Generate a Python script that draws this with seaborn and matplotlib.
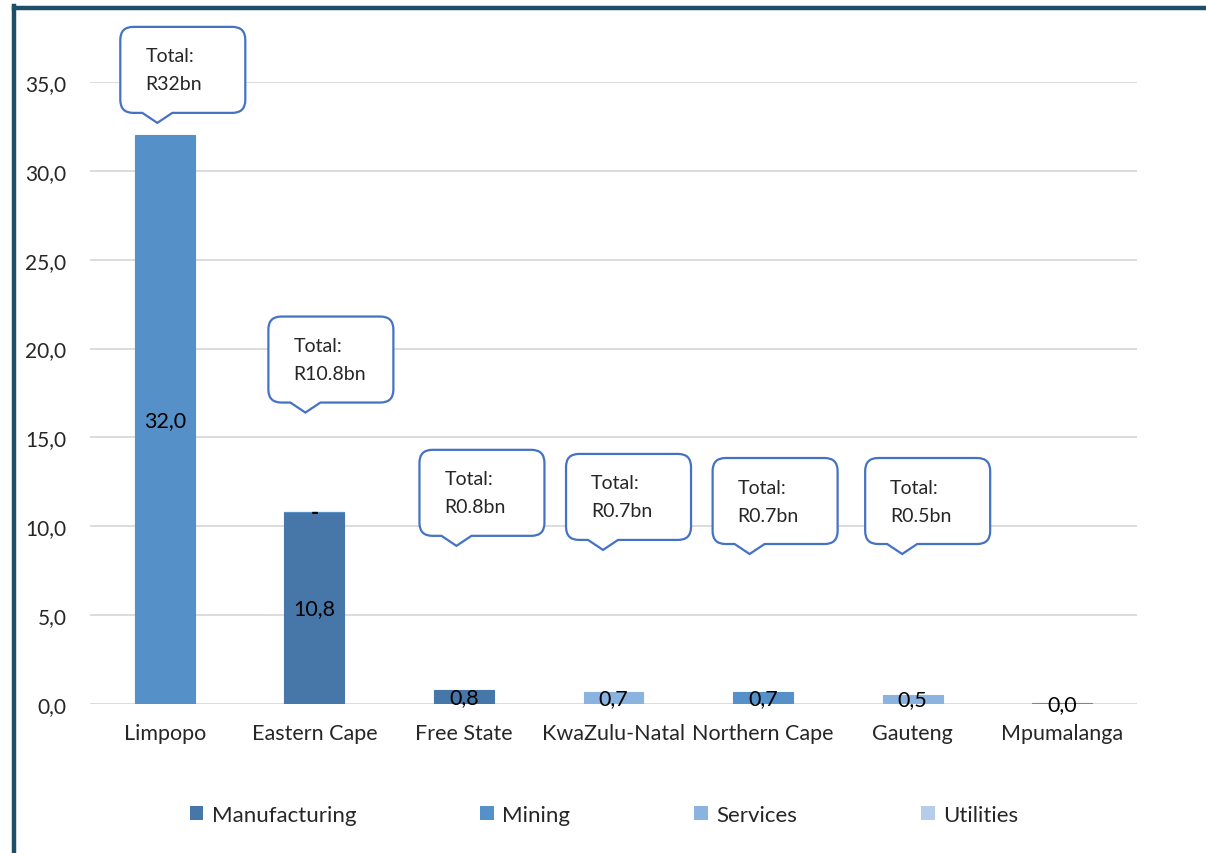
import numpy as np
import pandas as pd
import matplotlib
matplotlib.use("Agg")
import matplotlib.pyplot as plt
import matplotlib.transforms as mtransforms
from matplotlib.path import Path
from matplotlib.patches import PathPatch, Patch
from matplotlib.lines import Line2D
import seaborn as sns

# ---- data (R billion) ----
provinces = ["Limpopo", "Eastern Cape", "Free State", "KwaZulu-Natal",
             "Northern Cape", "Gauteng", "Mpumalanga"]
sectors = ["Manufacturing", "Mining", "Services", "Utilities"]
manufacturing = [np.nan, 10.8, 0.8, np.nan, np.nan, np.nan, np.nan]
mining = [32.0, 0.0, np.nan, np.nan, 0.7, np.nan, 0.04]
services = [np.nan, np.nan, np.nan, 0.7, np.nan, 0.5, np.nan]
utilities = [np.nan, np.nan, np.nan, np.nan, np.nan, np.nan, np.nan]
yticks = [0, 5, 10, 15, 20, 25, 30, 35]

series = [manufacturing, mining, services, utilities]
colors = ["#4677A8", "#5591C8", "#8AB3DF", "#B6CDE9"]

sns.set_theme(style="white")
plt.rcParams["font.family"] = ["Lato", "DejaVu Sans"]

fig = plt.figure(figsize=(12.06, 8.54), dpi=100)
ax = fig.add_axes([90 / 1206, 1 - 705 / 854, (1137 - 90) / 1206, (705 - 83) / 854])

bottom = np.zeros(len(provinces))
for name, vals, col in zip(sectors, series, colors):
    vals = np.array(vals, dtype=float)
    mask = ~np.isnan(vals)
    if mask.any():
        df = pd.DataFrame({"province": np.array(provinces)[mask], "value": vals[mask]})
        sns.barplot(data=df, x="province", y="value", order=provinces, color=col,
                    width=0.4, saturation=1, errorbar=None, bottom=bottom[mask],
                    edgecolor=col, linewidth=0.8, ax=ax, zorder=3)
        for i in np.where(mask)[0]:
            v = vals[i]
            txt = "-" if v == 0 else f"{v:.1f}".replace(".", ",")
            ax.text(i, bottom[i] + v / 2, txt, ha="center", va="center",
                    fontsize=15.5, color="black", zorder=5,
                    fontweight="bold" if v == 0 else "normal")
    bottom = bottom + np.nan_to_num(vals)

totals = bottom

ax.set_xlim(-0.5, len(provinces) - 0.5)
ax.set_ylim(0, 35)
ax.set_yticks(yticks)
ax.set_yticklabels([f"{t:.1f}".replace(".", ",") for t in yticks], fontsize=15)
ax.set_xlabel("")
ax.set_ylabel("")
ax.tick_params(axis="y", length=0, pad=17)
ax.tick_params(axis="x", length=0, pad=14, labelsize=15.5)
ax.yaxis.grid(True, color="#D9D9D9", linewidth=1.3, zorder=0)
ax.set_axisbelow(True)
for s in ax.spines.values():
    s.set_visible(False)

# ---- callouts with the province totals ----
# tip position of each callout: offset from the bar centre, height in data units
tip_dx = [-0.05, -0.06, -0.05, -0.07, -0.09, -0.07]
tip_y = [32.7, 16.4, 8.9, 8.67, 8.44, 8.44]


def callout_path(left, right, bottom_, top, r, half_base):
    """Rounded rectangle with a pointer below it; tip sits at (0, 0). Units: pixels."""
    verts = [
        (-half_base, bottom_), (0, 0), (half_base, bottom_),
        (right - r, bottom_), (right, bottom_), (right, bottom_ + r),
        (right, top - r), (right, top), (right - r, top),
        (left + r, top), (left, top), (left, top - r),
        (left, bottom_ + r), (left, bottom_), (left + r, bottom_),
        (-half_base, bottom_),
    ]
    codes = [Path.MOVETO, Path.LINETO, Path.LINETO,
             Path.LINETO, Path.CURVE3, Path.CURVE3,
             Path.LINETO, Path.CURVE3, Path.CURVE3,
             Path.LINETO, Path.CURVE3, Path.CURVE3,
             Path.LINETO, Path.CURVE3, Path.CURVE3,
             Path.CLOSEPOLY]
    return Path(np.array(verts) / 100.0, codes)


shape = callout_path(-37, 88, 10, 96, 13, 15)
for i, (dx, ty) in enumerate(zip(tip_dx, tip_y)):
    trans = fig.dpi_scale_trans + mtransforms.ScaledTranslation(i + dx, ty, ax.transData)
    patch = PathPatch(shape, facecolor="white", edgecolor="#4472C4", linewidth=1.6,
                      transform=trans, clip_on=False, zorder=6)
    ax.add_patch(patch)
    ax.text(-12 / 100, 67 / 100, "Total:", transform=trans, fontsize=14,
            ha="left", va="center", zorder=7, clip_on=False)
    ax.text(-12 / 100, 39 / 100, f"R{totals[i]:g}bn", transform=trans, fontsize=14,
            ha="left", va="center", zorder=7, clip_on=False)

# ---- legend ----
handles = [Patch(facecolor=c, edgecolor="none") for c in colors]
fig.legend(handles, sectors, loc="center", bbox_to_anchor=(604 / 1206, 38 / 854),
           ncol=4, frameon=False, fontsize=16, handlelength=0.6, handleheight=0.6,
           handletextpad=0.37, columnspacing=5.6)

# ---- frame ----
fig.add_artist(Line2D([13.5 / 1206, 13.5 / 1206], [0, 1 - 7 / 854],
                      transform=fig.transFigure, color="#1F4E6B", linewidth=3.2,
                      solid_capstyle="projecting"))
fig.add_artist(Line2D([13.5 / 1206, 1], [1 - 9 / 854, 1 - 9 / 854],
                      transform=fig.transFigure, color="#1F4E6B", linewidth=3.2,
                      solid_capstyle="projecting"))

fig.savefig("out.png", dpi=100)
